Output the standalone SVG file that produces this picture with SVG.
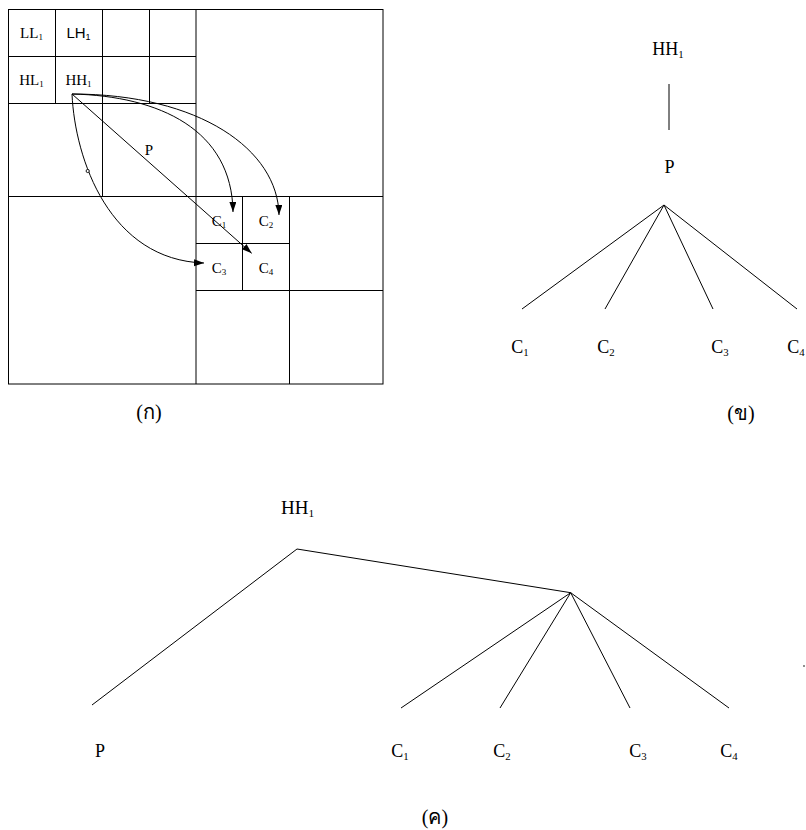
<svg xmlns="http://www.w3.org/2000/svg" width="806" height="830" viewBox="0 0 806 830">
<defs>
<style>
.ln{stroke:#000;stroke-width:1;fill:none}
.ser{font-family:"Liberation Serif","Times New Roman",serif;fill:#000}
.san{font-family:"Liberation Sans",Arial,sans-serif;fill:#000}
.thai{font-family:"Liberation Serif","Noto Sans",serif;fill:#000;font-size:20px}
.g{font-size:15px}
.t{font-size:18px}
.sub{font-size:0.6em}
</style>
<marker id="ah" markerUnits="userSpaceOnUse" markerWidth="11" markerHeight="8" refX="10" refY="3.5" orient="auto">
<path d="M0,0 L10,3.5 L0,7 z" fill="#000"/>
</marker>
</defs>
<rect width="806" height="830" fill="#fff"/>

<!-- (ก) grid -->
<g id="grid">
<rect class="ln" x="8.5" y="9.5" width="374.5" height="374.5"/>
<path class="ln" d="M8.5,196.5 H383 M196,9.5 V384 M8.5,56.5 H196 M8.5,103.5 H196 M55.5,9.5 V103.5 M102.5,9.5 V196.5 M149.5,9.5 V103.5 M289.5,196.5 V384 M196,290.5 H383 M242.5,196.5 V290.5 M196,243.5 H289.5"/>
</g>
<g id="cell-LL1"><text class="ser g" x="31.5" y="38" text-anchor="middle">LL<tspan class="sub" dy="2">1</tspan></text></g>
<g id="cell-LH1"><text class="san g" x="78.5" y="38" text-anchor="middle">LH<tspan class="sub" dy="2">1</tspan></text></g>
<g id="cell-HL1"><text class="ser g" x="31.5" y="85" text-anchor="middle">HL<tspan class="sub" dy="2">1</tspan></text></g>
<g id="cell-HH1"><text class="ser g" x="78.5" y="85" text-anchor="middle">HH<tspan class="sub" dy="2">1</tspan></text></g>
<g id="cell-P"><text class="ser g" x="149" y="155" text-anchor="middle">P</text></g>
<g id="cell-C1"><text class="ser g" x="219" y="226" text-anchor="middle">C<tspan class="sub" dy="2">1</tspan></text></g>
<g id="cell-C2"><text class="ser g" x="266" y="226" text-anchor="middle">C<tspan class="sub" dy="2">2</tspan></text></g>
<g id="cell-C3"><text class="ser g" x="219" y="273" text-anchor="middle">C<tspan class="sub" dy="2">3</tspan></text></g>
<g id="cell-C4"><text class="ser g" x="266" y="273" text-anchor="middle">C<tspan class="sub" dy="2">4</tspan></text></g>
<g id="arrows">
<path class="ln" d="M72,94 L251.7,253.3" marker-end="url(#ah)"/>
<path class="ln" d="M72,94 C160,96 232,130 233,212" marker-end="url(#ah)"/>
<path class="ln" d="M72,94 C200,94 278,150 279,215" marker-end="url(#ah)"/>
<path class="ln" d="M72,94 C75,160 110,260 204,263" marker-end="url(#ah)"/>
<circle cx="87.7" cy="171" r="1.6" fill="#fff" stroke="#000" stroke-width="0.9"/>
</g>
<g id="label-a"><text class="thai" x="149" y="419" text-anchor="middle">(ก)</text></g>

<!-- (ข) tree -->
<g id="b-HH1"><text class="ser t" x="668" y="55" text-anchor="middle">HH<tspan class="sub" dy="3">1</tspan></text></g>
<g id="b-P"><text class="ser t" x="669.5" y="173" text-anchor="middle">P</text></g>
<g id="b-C1"><text class="ser t" x="520" y="353" text-anchor="middle">C<tspan class="sub" dy="3">1</tspan></text></g>
<g id="b-C2"><text class="ser t" x="606" y="353" text-anchor="middle">C<tspan class="sub" dy="3">2</tspan></text></g>
<g id="b-C3"><text class="ser t" x="720" y="353" text-anchor="middle">C<tspan class="sub" dy="3">3</tspan></text></g>
<g id="b-C4"><text class="ser t" x="796" y="353" text-anchor="middle">C<tspan class="sub" dy="3">4</tspan></text></g>
<g id="b-edges">
<path class="ln" d="M669,84 V130 M664,205 L522,309 M664,205 L605,309 M664,205 L713,309 M664,205 L797,309"/>
</g>
<g id="label-b"><text class="thai" x="741" y="420" text-anchor="middle">(ข)</text></g>

<!-- (ค) tree -->
<g id="c-HH1"><text class="ser t" x="297.5" y="514" text-anchor="middle" style="font-size:19px">HH<tspan class="sub" dy="3">1</tspan></text></g>
<g id="c-P"><text class="ser t" x="100" y="757" text-anchor="middle">P</text></g>
<g id="c-C1"><text class="ser t" x="400" y="757" text-anchor="middle">C<tspan class="sub" dy="3">1</tspan></text></g>
<g id="c-C2"><text class="ser t" x="502" y="757" text-anchor="middle">C<tspan class="sub" dy="3">2</tspan></text></g>
<g id="c-C3"><text class="ser t" x="638" y="757" text-anchor="middle">C<tspan class="sub" dy="3">3</tspan></text></g>
<g id="c-C4"><text class="ser t" x="729" y="757" text-anchor="middle">C<tspan class="sub" dy="3">4</tspan></text></g>
<g id="c-edges">
<path class="ln" d="M92,705 L297,549 L570.7,592.7 M570.7,592.7 L401,708 M570.7,592.7 L500,708 M570.7,592.7 L630,708 M570.7,592.7 L729,708"/>
</g>
<circle cx="804" cy="666" r="0.8" fill="#000"/>
<g id="label-c"><text class="thai" x="435" y="824" text-anchor="middle">(ค)</text></g>
</svg>
